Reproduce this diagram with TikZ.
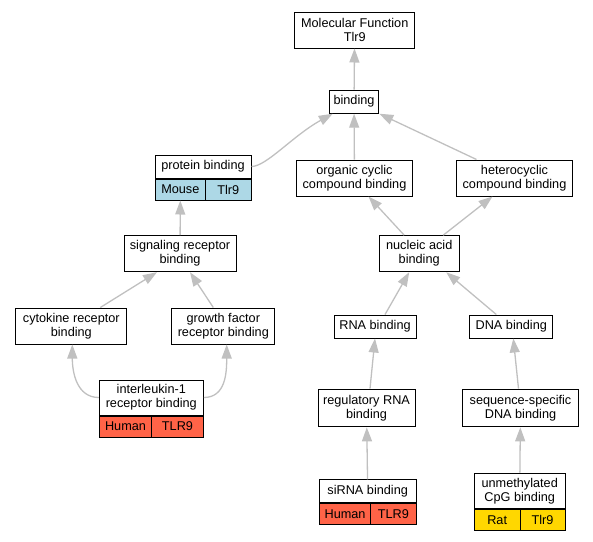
\documentclass[tikz,border=0pt]{standalone}
\usepackage{fontspec}
\setmainfont{Liberation Sans}
\usetikzlibrary{arrows.meta, positioning}
\definecolor{linkgray}{RGB}{192,192,192}
\definecolor{mouseblue}{RGB}{173,216,230}
\definecolor{humanred}{RGB}{255,99,71}
\definecolor{ratgold}{RGB}{255,215,0}

\begin{document}
\begin{tikzpicture}[x=1pt, y=-1pt,
  goterm/.style={draw, line width=1pt, fill=white, align=center, inner sep=0pt,
    font=\fontsize{12.7}{14}\selectfont, minimum height=23pt},
  twoline/.style={goterm, minimum height=36pt},
  cell/.style={goterm, minimum height=21pt},
  link/.style={draw=linkgray, line width=1.3pt, -{Triangle[length=14pt, width=10pt]}}]
\useasboundingbox (0,0) rectangle (593,541);

% Top
\node[twoline, minimum width=120.5pt] (mf) at (354.7,30) {Molecular Function\\Tlr9};
\node[goterm, minimum width=49.5pt] (bind) at (354,101.7) {binding};

% Protein side
\node[goterm, minimum width=96pt] (pb) at (203,166.5) {protein binding};
\node[cell, fill=mouseblue, minimum width=50.7pt, anchor=north west] (pb-sp) at (pb.south west) {Mouse};
\node[cell, fill=mouseblue, minimum width=45.3pt, anchor=north east] (pb-gn) at (pb.south east) {Tlr9};
\node[twoline, minimum width=112pt] (sig) at (180,253.7) {signaling receptor\\binding};
\node[twoline, minimum width=110.7pt] (cyt) at (71.3,326) {cytokine receptor\\binding};
\node[twoline, minimum width=103.3pt] (gf) at (223.3,326) {growth factor\\receptor binding};
\node[twoline, minimum width=104pt, minimum height=35pt] (il) at (151.3,397.5) {interleukin-1\\receptor binding};
\node[cell, fill=humanred, minimum width=52.4pt, anchor=north west] (il-sp) at (il.south west) {Human};
\node[cell, fill=humanred, minimum width=51.6pt, anchor=north east] (il-gn) at (il.south east) {TLR9};

% Nucleic acid side
\node[twoline, minimum width=115.6pt] (org) at (354.5,178) {organic cyclic\\compound binding};
\node[twoline, minimum width=115.6pt] (het) at (514.5,178) {heterocyclic\\compound binding};
\node[twoline, minimum width=79.7pt] (nuc) at (419.2,253.7) {nucleic acid\\binding};
\node[goterm, minimum width=82pt] (rna) at (375,326.5) {RNA binding};
\node[goterm, minimum width=83pt] (dna) at (511.3,326.5) {DNA binding};
\node[twoline, minimum width=97pt, minimum height=37.7pt] (reg) at (366.5,408) {regulatory RNA\\binding};
\node[twoline, minimum width=115.6pt, minimum height=37.7pt] (seq) at (520.5,408) {sequence-specific\\DNA binding};
\node[goterm, minimum width=96.7pt, minimum height=22.5pt] (sirna) at (367.7,491) {siRNA binding};
\node[cell, fill=humanred, minimum width=51.4pt, anchor=north west] (sirna-sp) at (sirna.south west) {Human};
\node[cell, fill=humanred, minimum width=45.3pt, anchor=north east] (sirna-gn) at (sirna.south east) {TLR9};
\node[twoline, minimum width=90.7pt, minimum height=35.7pt] (unm) at (519.7,491) {unmethylated\\CpG binding};
\node[cell, fill=ratgold, minimum width=45.7pt, minimum height=20.3pt, anchor=north west] (unm-sp) at (unm.south west) {Rat};
\node[cell, fill=ratgold, minimum width=45pt, minimum height=20.3pt, anchor=north east] (unm-gn) at (unm.south east) {Tlr9};

% Links (child to parent)
\draw[link] (bind) -- (mf);
\draw[link] (pb.east) .. controls +(15,0) and +(-40,22) .. ([xshift=4pt]bind.south west);
\draw[link] (org) -- (bind);
\draw[link] ([xshift=-38pt]het.north) -- (bind.south east);
\draw[link] (sig) -- (pb-sp);
\draw[link] ([xshift=29pt]cyt.north) -- ([xshift=-23pt]sig.south);
\draw[link] ([xshift=-10pt]gf.north) -- ([xshift=10pt]sig.south);
\draw[link] (il.west) .. controls +(-22,0) and +(0,28) .. ([xshift=1pt]cyt.south);
\draw[link] (il.east) .. controls +(22,0) and +(0,28) .. ([xshift=3.4pt]gf.south);
\draw[link] ([xshift=-15pt]nuc.north) -- ([xshift=14pt]org.south);
\draw[link] ([xshift=24pt]nuc.north) -- ([xshift=-22pt]het.south);
\draw[link] ([xshift=10pt]rna.north) -- ([xshift=-10pt]nuc.south);
\draw[link] ([xshift=-15pt]dna.north) -- ([xshift=27pt]nuc.south);
\draw[link] ([xshift=3.5pt]reg.north) -- (rna.south);
\draw[link] ([xshift=-2pt]seq.north) -- ([xshift=2pt]dna.south);
\draw[link] (sirna) -- (reg);
\draw[link] (unm) -- (seq);
\end{tikzpicture}
\end{document}
